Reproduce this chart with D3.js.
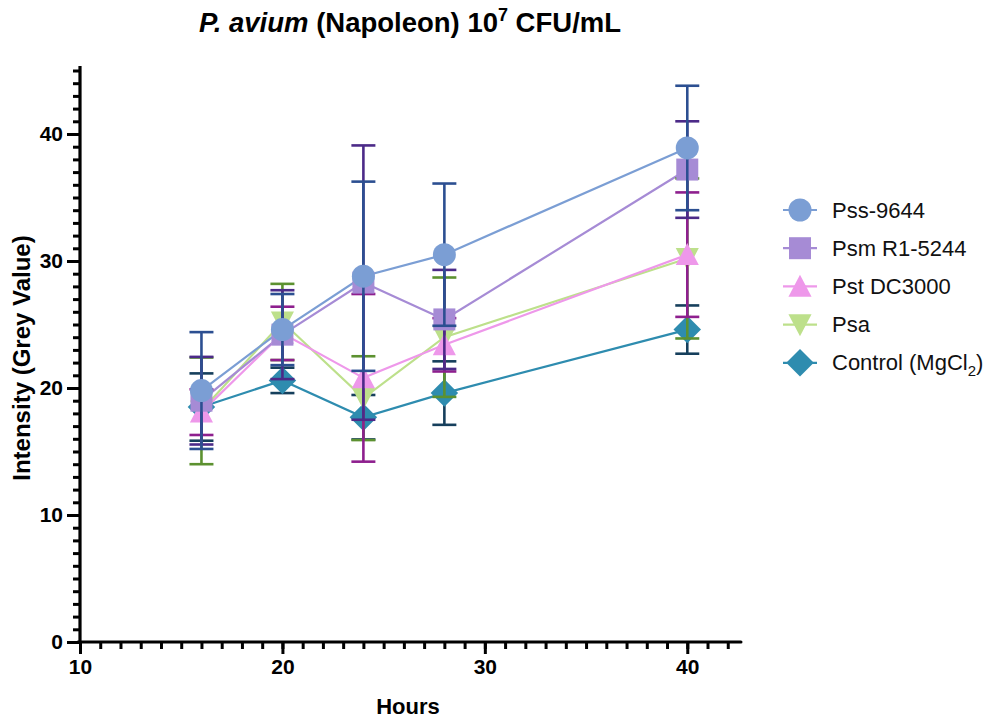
<!DOCTYPE html>
<html>
<head>
<meta charset="utf-8">
<script src="https://cdn.jsdelivr.net/npm/d3@7"></script>
<style>
  body { margin: 0; background: #fff; }
  text { font-family: "Liberation Sans", Arial, sans-serif; }
</style>
</head>
<body>
<script>
// data
var hours = [16, 20, 24, 28, 40];
var seriesNames = ["Pss-9644", "Psm R1-5244", "Pst DC3000", "Psa", "Control (MgCl2)"];

var pssMean = [19.8, 24.6, 28.8, 30.5, 38.9];
var pssSd   = [4.6, 2.8, 7.45, 5.6, 4.9];
var psmMean = [19.0, 24.2, 28.3, 25.4, 37.2];
var psmSd   = [3.45, 3.5, 10.8, 3.9, 3.8];
var pstMean = [18.1, 24.3, 20.8, 23.4, 30.5];
var pstSd   = [1.8, 2.1, 6.6, 2.1, 4.9];
var psaMean = [18.2, 25.2, 19.2, 24.0, 30.2];
var psaSd   = [4.2, 3.0, 3.3, 4.7, 6.3];
var ctlMean = [18.5, 20.6, 17.7, 19.6, 24.6];
var ctlSd   = [2.65, 1.0, 1.75, 2.5, 1.9];

var xTicks = [10, 20, 30, 40];
var xMinor = d3.range(11, 43, 1);
var yTicks = [0, 10, 20, 30, 40];
var yMinor = d3.range(1, 46, 1);

var markerColors = ["#7b9ed4", "#a68bd5", "#ee98ea", "#bde08b", "#2e8caf"];
var barColors    = ["#2c4f91", "#4c2a88", "#8e1f8e", "#5c9130", "#163f5c"];
var shapes = ["circle", "square", "triUp", "triDown", "diamond"];

var series = [
  {name: seriesNames[0], mean: pssMean, sd: pssSd},
  {name: seriesNames[1], mean: psmMean, sd: psmSd},
  {name: seriesNames[2], mean: pstMean, sd: pstSd},
  {name: seriesNames[3], mean: psaMean, sd: psaSd},
  {name: seriesNames[4], mean: ctlMean, sd: ctlSd}
];
series.forEach(function(s, i) {
  s.color = markerColors[i]; s.bar = barColors[i]; s.shape = shapes[i];
});

var W = 998, H = 720;
var svg = d3.select("body").append("svg").attr("width", W).attr("height", H);

var x = d3.scaleLinear().domain([10, 43]).range([80, 748]);
var y = d3.scaleLinear().domain([0, 45]).range([642, 70.5]);

// marker path, centred on 0,0
function symbolPath(shape, r) {
  if (shape == "circle") return d3.symbol().type(d3.symbolCircle).size(Math.PI * r * r)();
  if (shape == "square") return "M" + (-r) + "," + (-r) + "H" + r + "V" + r + "H" + (-r) + "Z";
  if (shape == "triUp") return "M0," + (-r * 1.05) + "L" + (r * 1.05) + "," + (r * 0.95) + "L" + (-r * 1.05) + "," + (r * 0.95) + "Z";
  if (shape == "triDown") return "M0," + (r * 1.05) + "L" + (r * 1.05) + "," + (-r * 0.95) + "L" + (-r * 1.05) + "," + (-r * 0.95) + "Z";
  return "M0," + (-r * 1.25) + "L" + (r * 1.25) + ",0L0," + (r * 1.25) + "L" + (-r * 1.25) + ",0Z";
}

// connecting lines
var line = d3.line().x(function(d) { return x(d[0]); }).y(function(d) { return y(d[1]); });
var rev = series.slice().reverse();
rev.forEach(function(s) {
  svg.append("path")
    .attr("d", line(hours.map(function(h, i) { return [h, s.mean[i]]; })))
    .attr("fill", "none")
    .attr("stroke", s.color)
    .attr("stroke-width", 2.2);
});

// error bars then markers, last series drawn first
rev.forEach(function(s) {
  var g = svg.append("g");
  hours.forEach(function(h, i) {
    var cx = x(h), hi = y(s.mean[i] + s.sd[i]), lo = y(s.mean[i] - s.sd[i]);
    g.append("line").attr("x1", cx).attr("x2", cx).attr("y1", hi).attr("y2", lo)
      .attr("stroke", s.bar).attr("stroke-width", 2.6);
    [hi, lo].forEach(function(yy) {
      g.append("line").attr("x1", cx - 12).attr("x2", cx + 12).attr("y1", yy).attr("y2", yy)
        .attr("stroke", s.bar).attr("stroke-width", 2.6);
    });
  });
  hours.forEach(function(h, i) {
    g.append("path")
      .attr("d", symbolPath(s.shape, s.shape == "circle" ? 11.5 : 11))
      .attr("transform", "translate(" + x(h) + "," + y(s.mean[i]) + ")")
      .attr("fill", s.color);
  });
});

// axes: minor ticks in their own groups so they are not replaced
svg.append("g").attr("class", "minor").attr("transform", "translate(80,0)")
  .call(d3.axisLeft(y).tickValues(yMinor).tickSize(7).tickFormat(""));
svg.append("g").attr("class", "minor").attr("transform", "translate(0,642)")
  .call(d3.axisBottom(x).tickValues(xMinor).tickSize(7).tickFormat(""));
var yAxis = svg.append("g").attr("class", "major").attr("transform", "translate(80,0)")
  .call(d3.axisLeft(y).tickValues(yTicks).tickSize(13).tickFormat(d3.format("d")).tickPadding(4));
var xAxis = svg.append("g").attr("class", "major").attr("transform", "translate(0,642)")
  .call(d3.axisBottom(x).tickValues(xTicks).tickSize(12).tickFormat(d3.format("d")).tickPadding(5));

svg.selectAll(".domain").remove();
svg.selectAll(".tick line").attr("stroke", "#000").attr("stroke-width", 3);
svg.selectAll(".major .tick text")
  .style("font-size", "21px").style("font-weight", "bold").style("fill", "#000");
svg.append("path").attr("d", "M80,66V644").attr("stroke", "#000").attr("stroke-width", 3.2);
svg.append("path").attr("d", "M78,642H" + x(42.65)).attr("stroke", "#000").attr("stroke-width", 3.2)
  .attr("stroke-linecap", "round");

// title
var title = svg.append("text").attr("x", 410).attr("y", 32).attr("text-anchor", "middle")
  .attr("font-size", 27.5).attr("font-weight", "bold");
title.append("tspan").attr("font-style", "italic").text("P. avium");
title.append("tspan").text(" (Napoleon) 10");
title.append("tspan").attr("font-size", 18).attr("dy", -11).text("7");
title.append("tspan").attr("dy", 11).text(" CFU/mL");

// axis titles
svg.append("text").attr("x", 408).attr("y", 714).attr("text-anchor", "middle")
  .attr("font-size", 22).attr("font-weight", "bold").text("Hours");
svg.append("text").attr("transform", "translate(30,358) rotate(-90)").attr("text-anchor", "middle")
  .attr("font-size", 24).attr("font-weight", "bold").text("Intensity (Grey Value)");

// legend
var legend = svg.append("g");
series.forEach(function(s, i) {
  var ly = 210 + i * 38.2;
  var row = legend.append("g").attr("transform", "translate(800," + ly + ")");
  row.append("line").attr("x1", -17).attr("x2", 17).attr("stroke", s.color).attr("stroke-width", 2.2);
  row.append("path").attr("d", symbolPath(s.shape, s.shape == "circle" ? 11.5 : 11)).attr("fill", s.color);
  var t = row.append("text").attr("x", 32).attr("y", 7.5).attr("font-size", 22).attr("fill", "#111");
  if (s.name == "Control (MgCl2)") {
    t.append("tspan").text("Control (MgCl");
    t.append("tspan").attr("font-size", 15).attr("dy", 6).text("2");
    t.append("tspan").attr("dy", -6).text(")");
  } else {
    t.text(s.name);
  }
});
</script>
</body>
</html>
